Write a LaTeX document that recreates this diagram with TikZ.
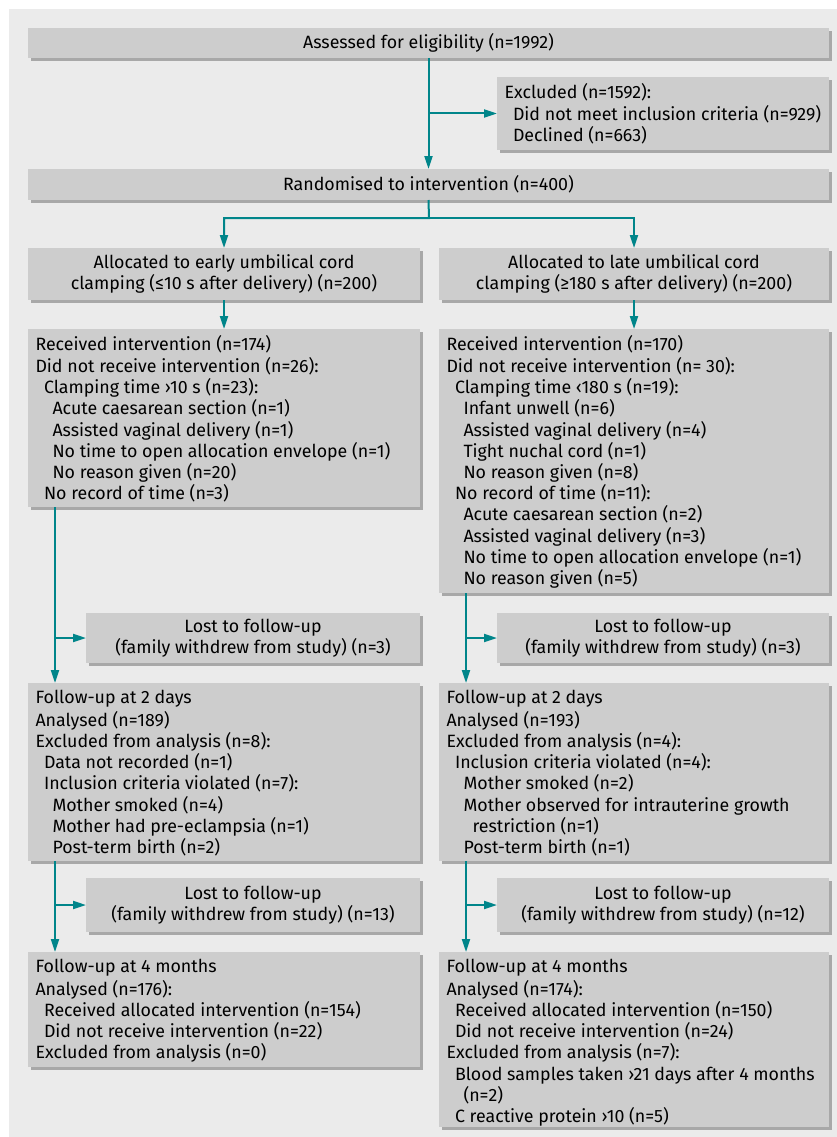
\documentclass[tikz,border=0pt]{standalone}
\usepackage{fontspec}
\setmainfont{Fira Sans}
\usetikzlibrary{arrows.meta,shadows}
\definecolor{panelgray}{HTML}{EBEBEB}
\definecolor{boxgray}{HTML}{CDCDCD}
\definecolor{shadowgray}{HTML}{A8A8A8}
\definecolor{flowteal}{RGB}{0,133,138}
\newcommand\ia{\hspace*{8.5pt}}
\newcommand\ib{\hspace*{17pt}}
\newcommand\ic{\hspace*{26pt}}
\begin{document}
\begin{tikzpicture}[x=1pt,y=-1pt,
  every node/.style={font=\fontsize{17.8}{21.2}\selectfont},
  box/.style={fill=boxgray, inner xsep=7.5pt, inner ysep=6pt, outer sep=0pt, anchor=north west,
    general shadow={fill=shadowgray, shadow xshift=3pt, shadow yshift=-3pt}},
  cbox/.style={box, inner sep=0pt, align=center},
  arr/.style={draw=flowteal, line width=2pt, -{Triangle[length=13pt,width=8pt]}}]
\useasboundingbox (0,0) rectangle (837,1137);
\fill[white] (0,0) rectangle (837,1137);
\fill[panelgray] (9,9) rectangle (837,1137);

% top
\node[cbox, minimum width=801pt, minimum height=30pt] (assess) at (28,28) {Assessed for eligibility (n=1992)};
\node[box] (excl) at (497,77) {\parbox[t][61pt][t]{317pt}{\strut Excluded (n=1592):\\
\ia Did not meet inclusion criteria (n=929)\\
\ia Declined (n=663)}};
\node[cbox, minimum width=801pt, minimum height=31pt] (rand) at (28,169) {Randomised to intervention (n=400)};

% allocation
\node[cbox, minimum width=392pt, minimum height=52pt] (allocE) at (28,248) {Allocated to early umbilical cord\\clamping (≤10 s after delivery) (n=200)};
\node[cbox, minimum width=390pt, minimum height=52pt] (allocL) at (439,248) {Allocated to late umbilical cord\\clamping (≥180 s after delivery) (n=200)};

% received
\node[box] (recE) at (28,329) {\parbox[t][166pt][t]{377pt}{\strut Received intervention (n=174)\\
Did not receive intervention (n=26):\\
\ia Clamping time ›10 s (n=23):\\
\ib Acute caesarean section (n=1)\\
\ib Assisted vaginal delivery (n=1)\\
\ib No time to open allocation envelope (n=1)\\
\ib No reason given (n=20)\\
\ia No record of time (n=3)}};
\node[box] (recL) at (439,329) {\parbox[t][252pt][t]{375pt}{\strut Received intervention (n=170)\\
Did not receive intervention (n= 30):\\
\ia Clamping time ‹180 s (n=19):\\
\ib Infant unwell (n=6)\\
\ib Assisted vaginal delivery (n=4)\\
\ib Tight nuchal cord (n=1)\\
\ib No reason given (n=8)\\
\ia No record of time (n=11):\\
\ib Acute caesarean section (n=2)\\
\ib Assisted vaginal delivery (n=3)\\
\ib No time to open allocation envelope (n=1)\\
\ib No reason given (n=5)}};

% lost 1
\node[cbox, minimum width=334pt, minimum height=50pt] (lostE1) at (86,613) {Lost to follow-up\\(family withdrew from study) (n=3)};
\node[cbox, minimum width=332pt, minimum height=50pt] (lostL1) at (497,613) {Lost to follow-up\\(family withdrew from study) (n=3)};

% follow-up 2 days
\node[box] (fuE) at (28,683) {\parbox[t][166pt][t]{377pt}{\strut Follow-up at 2 days\\
Analysed (n=189)\\
Excluded from analysis (n=8):\\
\ia Data not recorded (n=1)\\
\ia Inclusion criteria violated (n=7):\\
\ib Mother smoked (n=4)\\
\ib Mother had pre-eclampsia (n=1)\\
\ib Post-term birth (n=2)}};
\node[box] (fuL) at (439,683) {\parbox[t][166pt][t]{375pt}{\strut Follow-up at 2 days\\
Analysed (n=193)\\
Excluded from analysis (n=4):\\
\ia Inclusion criteria violated (n=4):\\
\ib Mother smoked (n=2)\\
\ib Mother observed for intrauterine growth\\
\ic restriction (n=1)\\
\ib Post-term birth (n=1)}};

% lost 2
\node[cbox, minimum width=334pt, minimum height=54pt] (lostE2) at (86,878) {Lost to follow-up\\(family withdrew from study) (n=13)};
\node[cbox, minimum width=332pt, minimum height=54pt] (lostL2) at (497,878) {Lost to follow-up\\(family withdrew from study) (n=12)};

% follow-up 4 months
\node[box] (fmE) at (28,952) {\parbox[t][103pt][t]{377pt}{\strut Follow-up at 4 months\\
Analysed (n=176):\\
\ia Received allocated intervention (n=154)\\
\ia Did not receive intervention (n=22)\\
Excluded from analysis (n=0)}};
\node[box] (fmL) at (439,952) {\parbox[t][163pt][t]{375pt}{\strut Follow-up at 4 months\\
Analysed (n=174):\\
\ia Received allocated intervention (n=150)\\
\ia Did not receive intervention (n=24)\\
Excluded from analysis (n=7):\\
\ia Blood samples taken ›21 days after 4 months\\
\ib (n=2)\\
\ia C reactive protein ›10 (n=5)}};

% connectors
\coordinate (split) at (429,218);
\coordinate (xl) at (55,0);
\coordinate (xr) at (466,0);
\coordinate (b0) at (assess.south |- excl.west);
\draw[arr] (assess.south) -- (rand.north);
\draw[arr] (b0) -- (excl.west);
\draw[arr] (rand.south) -- (split) -| (allocE.north);
\draw[arr] (split) -| (allocL.north);
\draw[arr] (allocE.south) -- (recE.north);
\draw[arr] (allocL.south) -- (recL.north);

\coordinate (bE1) at (lostE1.west -| xl);
\coordinate (bL1) at (lostL1.west -| xr);
\coordinate (bE2) at (lostE2.west -| xl);
\coordinate (bL2) at (lostL2.west -| xr);
\draw[arr] (recE.south -| xl) -- (fuE.north -| xl);
\draw[arr] (bE1) -- (lostE1.west);
\draw[arr] (recL.south -| xr) -- (fuL.north -| xr);
\draw[arr] (bL1) -- (lostL1.west);
\draw[arr] (fuE.south -| xl) -- (fmE.north -| xl);
\draw[arr] (bE2) -- (lostE2.west);
\draw[arr] (fuL.south -| xr) -- (fmL.north -| xr);
\draw[arr] (bL2) -- (lostL2.west);
\end{tikzpicture}
\end{document}
